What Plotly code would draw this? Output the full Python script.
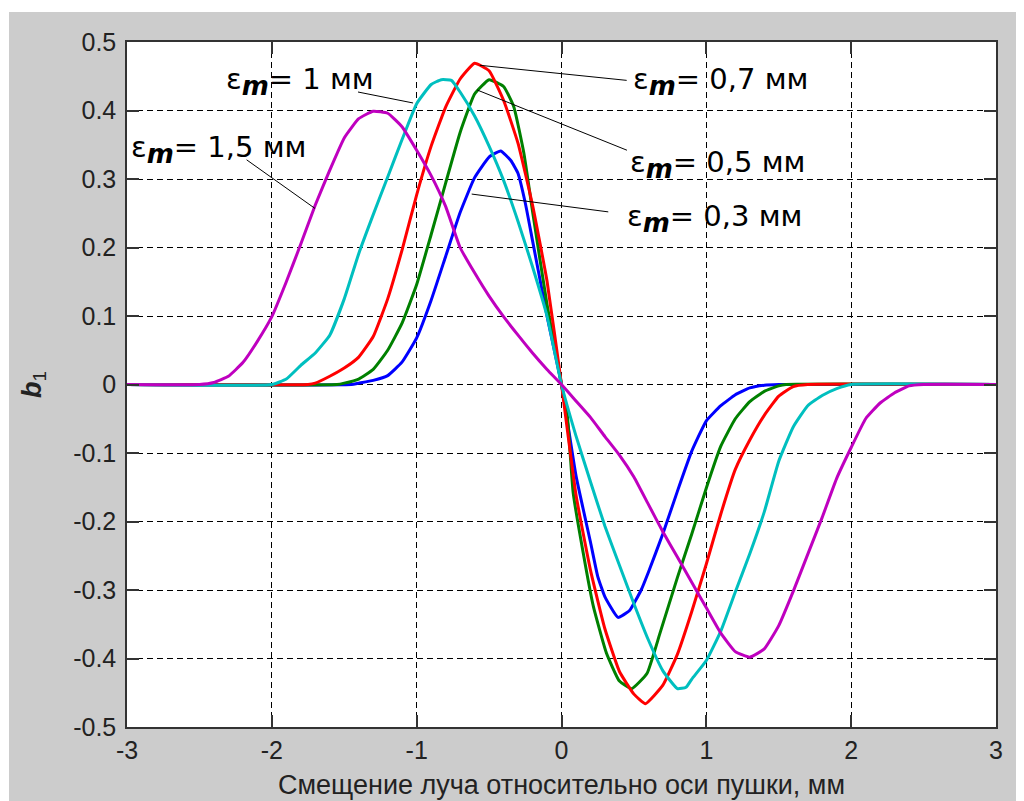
import plotly.graph_objects as go

# ---------------- data ----------------
x_03 = [-3, -1.45, -1.4, -1.3, -1.2, -1.1, -1.0, -0.9, -0.8, -0.7, -0.6, -0.5, -0.42, -0.35, -0.3, -0.25, -0.2, -0.1, 0,
        0.1, 0.2, 0.25, 0.3, 0.39, 0.47, 0.55, 0.6, 0.7, 0.8, 0.9, 1.0, 1.1, 1.2, 1.3, 1.4, 1.5, 3]
y_03 = [0, 0, 0.002, 0.006, 0.013, 0.033, 0.068, 0.123, 0.187, 0.251, 0.302, 0.332, 0.341, 0.327, 0.308, 0.265, 0.21, 0.1, 0,
        -0.133, -0.23, -0.28, -0.31, -0.34, -0.33, -0.3, -0.274, -0.218, -0.156, -0.097, -0.053, -0.031, -0.015, -0.005, -0.001, 0, 0]

x_05 = [-3, -1.55, -1.5, -1.4, -1.3, -1.2, -1.1, -1.0, -0.9, -0.8, -0.7, -0.6, -0.5, -0.4, -0.33, -0.26, -0.2, -0.1, 0,
        0.04, 0.08, 0.15, 0.22, 0.31, 0.4, 0.485, 0.59, 0.68, 0.8, 0.9, 1.0, 1.1, 1.2, 1.3, 1.4, 1.5, 1.55, 3]
y_05 = [0, 0, 0.002, 0.008, 0.022, 0.05, 0.09, 0.146, 0.219, 0.294, 0.368, 0.424, 0.445, 0.435, 0.406, 0.338, 0.253, 0.117, 0,
        -0.045, -0.157, -0.246, -0.324, -0.392, -0.433, -0.444, -0.422, -0.363, -0.282, -0.218, -0.151, -0.09, -0.05, -0.025, -0.01, -0.002, 0, 0]

x_07 = [-3, -1.75, -1.7, -1.6, -1.5, -1.4, -1.3, -1.2, -1.1, -1.0, -0.9, -0.8, -0.7, -0.6, -0.5, -0.4, -0.3, -0.2, -0.1, 0,
        0.1, 0.2, 0.3, 0.4, 0.5, 0.58, 0.7, 0.8, 0.9, 1.0, 1.1, 1.2, 1.3, 1.4, 1.5, 1.6, 1.7, 3]
y_07 = [0, 0, 0.002, 0.012, 0.024, 0.04, 0.07, 0.125, 0.197, 0.277, 0.348, 0.405, 0.446, 0.469, 0.458, 0.415, 0.352, 0.262, 0.151, 0,
        -0.161, -0.271, -0.357, -0.419, -0.452, -0.466, -0.439, -0.394, -0.331, -0.262, -0.189, -0.124, -0.081, -0.045, -0.017, -0.003, 0, 0]

x_10 = [-3, -2.0, -1.9, -1.8, -1.7, -1.6, -1.5, -1.4, -1.3, -1.2, -1.1, -1.0, -0.9, -0.83, -0.76, -0.7, -0.6, -0.5, -0.4, -0.3, -0.2, -0.1, 0,
        0.1, 0.2, 0.3, 0.4, 0.5, 0.6, 0.7, 0.8, 0.86, 0.9, 1.0, 1.1, 1.2, 1.3, 1.4, 1.5, 1.6, 1.7, 1.8, 1.9, 2.0, 3]
y_10 = [0, 0, 0.008, 0.028, 0.046, 0.072, 0.125, 0.191, 0.248, 0.303, 0.358, 0.41, 0.438, 0.445, 0.444, 0.427, 0.392, 0.348, 0.298, 0.238, 0.172, 0.1, 0,
        -0.075, -0.142, -0.207, -0.264, -0.32, -0.373, -0.418, -0.444, -0.442, -0.43, -0.403, -0.36, -0.303, -0.247, -0.186, -0.112, -0.062, -0.031, -0.016, -0.006, 0, 0]

x_15 = [-3, -2.5, -2.4, -2.3, -2.2, -2.1, -2.0, -1.9, -1.8, -1.7, -1.6, -1.5, -1.4, -1.3, -1.2, -1.1, -1.0, -0.9, -0.8, -0.7, -0.6, -0.5, -0.4, -0.3, -0.2, -0.1, 0,
        0.1, 0.2, 0.3, 0.4, 0.5, 0.6, 0.7, 0.8, 0.9, 1.0, 1.1, 1.2, 1.3, 1.4, 1.5, 1.6, 1.7, 1.8, 1.9, 2.0, 2.1, 2.2, 2.3, 2.4, 2.5, 3]
y_15 = [0, 0, 0.003, 0.012, 0.032, 0.063, 0.099, 0.15, 0.205, 0.262, 0.313, 0.36, 0.388, 0.399, 0.396, 0.376, 0.342, 0.305, 0.26, 0.2, 0.163, 0.129, 0.099, 0.072, 0.046, 0.022, 0,
        -0.024, -0.048, -0.076, -0.103, -0.135, -0.175, -0.215, -0.252, -0.289, -0.326, -0.363, -0.39, -0.398, -0.386, -0.352, -0.302, -0.248, -0.194, -0.137, -0.092, -0.05, -0.027, -0.012, -0.002, 0, 0]

series_x = [x_03, x_05, x_07, x_10, x_15]
series_y = [y_03, y_05, y_07, y_10, y_15]
series_names = ["εm = 0,3 мм", "εm = 0,5 мм", "εm = 0,7 мм", "εm = 1 мм", "εm = 1,5 мм"]
series_colors = ["#0000ff", "#008000", "#ff0000", "#00bfbf", "#bf00bf"]

x_ticks = [-3, -2, -1, 0, 1, 2, 3]
x_ticktext = ["-3", "-2", "-1", "0", "1", "2", "3"]
y_ticks = [-0.5, -0.4, -0.3, -0.2, -0.1, 0, 0.1, 0.2, 0.3, 0.4, 0.5]
y_ticktext = ["-0.5", "-0.4", "-0.3", "-0.2", "-0.1", "0", "0.1", "0.2", "0.3", "0.4", "0.5"]
x_title = "Смещение луча относительно оси пушки, мм"

# label texts, label anchor (left, middle) and leader lines (from, to) in data units
label_values = ["0,3", "0,5", "0,7", "1", "1,5"]
label_pos = [(0.44, 0.243), (0.46, 0.321), (0.48, 0.442), (-2.33, 0.443), (-2.985, 0.343)]
leader_from = [(-0.62, 0.278), (-0.583, 0.43), (-0.564, 0.466), (-1.025, 0.411), (-1.702, 0.257)]
leader_to = [(0.323, 0.252), (0.452, 0.342), (0.45, 0.444), (-1.405, 0.427), (-2.174, 0.328)]

AX_FONT = "Liberation Sans Narrow, Liberation Sans, Arial, sans-serif"
LBL_FONT = "DejaVu Sans, Verdana, sans-serif"

fig = go.Figure()
for xs, ys, nm, col in zip(series_x, series_y, series_names, series_colors):
    fig.add_trace(go.Scatter(x=xs, y=ys, mode="lines", name=nm,
                             line=dict(color=col, width=3, shape="spline", smoothing=0.4),
                             showlegend=False))

for (x0, y0), (x1, y1) in zip(leader_from, leader_to):
    fig.add_shape(type="line", xref="x", yref="y", x0=x0, y0=y0, x1=x1, y1=y1,
                  line=dict(color="black", width=1))

for val, (lx, ly) in zip(label_values, label_pos):
    fig.add_annotation(x=lx, y=ly, xref="x", yref="y", xanchor="left", yanchor="middle",
                       showarrow=False,
                       text="ε<sub><span style='font-size:26px'><b><i>m</i></b></span></sub>= " + val + " мм",
                       font=dict(family=LBL_FONT, size=29, color="black"))

# x-axis title as a paper annotation (keeps plot area fixed)
fig.add_annotation(x=0.5, y=-0.0847, xref="paper", yref="paper", xanchor="center", yanchor="middle",
                   showarrow=False, text=x_title,
                   font=dict(family=AX_FONT, size=27, color="#222222"))

# thin white strips at the top/left of the grey figure frame
fig.add_shape(type="rect", xref="paper", yref="paper", x0=-0.3, x1=1.1, y0=1.0438, y1=1.2,
              fillcolor="white", line_width=0, layer="below")
fig.add_shape(type="rect", xref="paper", yref="paper", x0=-0.3, x1=-0.1358, y0=-0.2, y1=1.2,
              fillcolor="white", line_width=0, layer="below")

axis_common = dict(
    showgrid=True, gridcolor="black", gridwidth=1, griddash="6px,4px",
    zeroline=False, showline=True, linecolor="#333333", linewidth=1.5, mirror="allticks",
    ticks="inside", ticklen=12, tickcolor="#333333", tickwidth=1.5,
    tickfont=dict(family=AX_FONT, size=25, color="#222222"), automargin=False,
)

fig.update_xaxes(range=[-3, 3], tickvals=x_ticks, ticktext=x_ticktext, **axis_common)
fig.update_yaxes(range=[-0.5, 0.5], tickvals=y_ticks, ticktext=y_ticktext,
                 ticklabelstandoff=4,
                 title=dict(text="<b><i>b</i></b><sub>1</sub>",
                            font=dict(family=AX_FONT, size=27, color="#222222"), standoff=24),
                 **axis_common)

fig.update_layout(
    width=1016, height=793,
    margin=dict(l=119, r=28, t=34, b=74),
    paper_bgcolor="#cccccc", plot_bgcolor="white",
)

fig.write_html("out.html")
